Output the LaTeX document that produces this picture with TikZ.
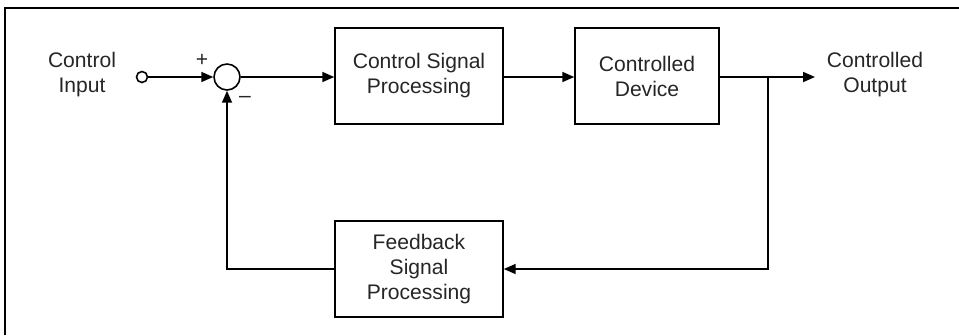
\documentclass[tikz,border=0pt]{standalone}
\usepackage{fontspec}
\setmainfont{Liberation Sans}
\usetikzlibrary{arrows.meta,positioning}
\tikzset{
  >={Triangle[length=6.8pt,width=5.7pt]},
  every node/.style={font=\fontsize{12}{14.2}\selectfont, text=black!85},
  block/.style={draw, line width=0.9pt, minimum width=3.36cm, minimum height=1.92cm, align=center},
  junction/.style={draw, circle, line width=0.9pt, inner sep=0pt},
  label text/.style={align=center},
  sign/.style={font=\fontsize{12}{14}\selectfont}
}
\begin{document}
\begin{tikzpicture}[x=0.02cm, y=-0.02cm, line width=0.9pt]
      \useasboundingbox (0,0) rectangle (959,335);
      \draw[line width=0.6pt] (959,8) -- (5,8) -- (5,335);

      \node[label text] (cin) at (82,75) {Control\\Input};
      \node[junction, minimum size=0.22cm] (in) at (142,77) {};
      \node[junction, minimum size=0.52cm] (sum) at (227,77) {};
      \node[block] (csp) at (419,76) {Control Signal\\Processing};
      \node[block, minimum width=2.88cm] (dev) at (647,76) {Controlled\\Device};
      \node[block] (fb) at (419,269) {Feedback\\Signal\\Processing};
      \node[label text] (cout) at (875,75) {Controlled\\Output};
      \node[sign] (plus) at (202,60) {+};
      \node[sign] (minus) at (245,99) {--};

      \coordinate (branch) at (768,77);
      \coordinate (out) at (815,77);

      \draw[->] (in) -- (sum);
      \draw[->] (sum) -- (csp.west |- sum);
      \draw[->] (csp.east |- sum) -- (dev.west |- sum);
      \draw[->] (dev.east |- sum) -- (out);
      \draw[->] (branch) |- (fb.east);
      \draw[->] (fb.west) -| (sum.south);
    \end{tikzpicture}
\end{document}
